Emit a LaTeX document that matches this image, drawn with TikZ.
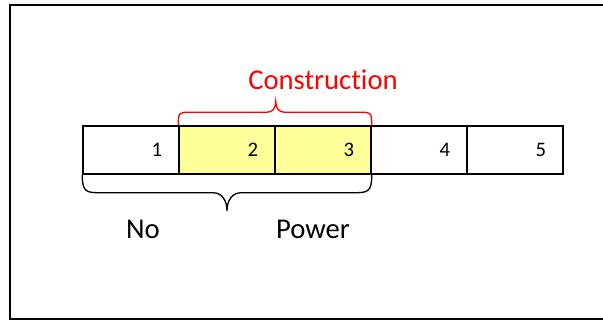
\documentclass[tikz,border=0pt]{standalone}
\usepackage{fontspec}
\setmainfont{Carlito}[Ligatures={NoCommon}]
\usetikzlibrary{calc}
\definecolor{cellyellow}{RGB}{255,255,153}
\tikzset{
  cell/.style={draw=black, line width=1.1pt, minimum width=72pt, minimum height=36pt,
    inner sep=0pt, text width=46.5pt, align=right, font=\fontsize{15.5}{18}\selectfont},
  hot/.style={cell, fill=cellyellow},
  label/.style={font=\fontsize{21.5}{25}\selectfont, inner sep=0pt},
  bracepath/.style={line width=1pt},
}
\begin{document}
\begin{tikzpicture}[x=0.75pt, y=-0.75pt]
\useasboundingbox (0,0) rectangle (603,320);
\clip (0,0) rectangle (603,320);
% outer frame
\draw[line width=1.5pt] (9.5,5) rectangle (612,318.5);
% strip of five cells
\node[cell] (c1) at (131,150) {1};
\node[hot]  (c2) at (227,150) {2};
\node[hot]  (c3) at (323,150) {3};
\node[cell] (c4) at (419,150) {4};
\node[cell] (c5) at (515,150) {5};
% brace over cells 2 and 3
\draw[bracepath, red]
  (c2.north west) .. controls +(0,-13) and +(-10,0) .. ($(c2.north west)+(11,-13)$)
  -- ($(c2.north east)+(-9,-13)$) .. controls +(6,0) and +(0,7) .. ($(c2.north east)+(0,-24)$)
  .. controls +(0,7) and +(-6,0) .. ($(c2.north east)+(9,-13)$)
  -- ($(c3.north east)+(-11,-13)$) .. controls +(10,0) and +(0,-13) .. (c3.north east);
\node[label, text=red] (cons) at ($(c3.center)+(0,-70)$) {Construction};
% brace under cells 1 to 3
\draw[bracepath, black]
  (c1.south west) .. controls +(0,18) and +(-16,0) .. ($(c1.south west)+(20,18)$)
  -- ($(c2.south)+(-14,18)$) .. controls +(9,0) and +(0,-10) .. ($(c2.south)+(0,36)$)
  .. controls +(0,-10) and +(-9,0) .. ($(c2.south)+(14,18)$)
  -- ($(c3.south east)+(-20,18)$) .. controls +(16,0) and +(0,18) .. (c3.south east);
\node[label] (no) at (143,229) {No};
\node[label] (power) at (313,229) {Power};
\end{tikzpicture}
\end{document}
